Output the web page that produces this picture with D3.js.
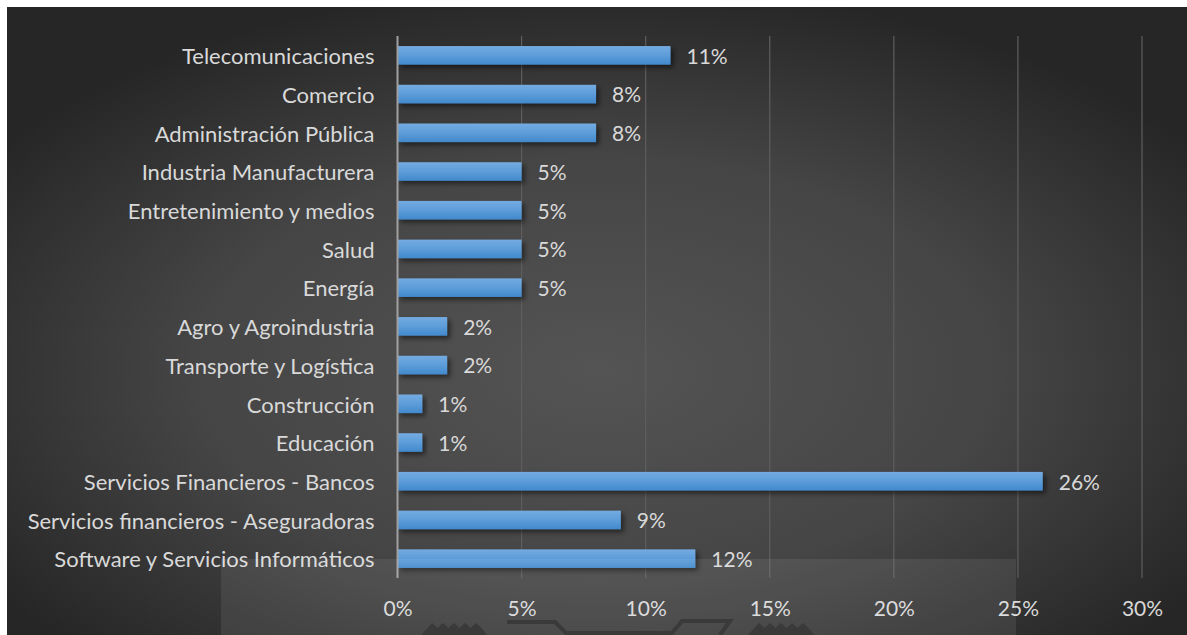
<!DOCTYPE html>
<html>
<head>
<meta charset="utf-8">
<script src="https://cdn.jsdelivr.net/npm/d3@7"></script>
<style>
  html, body { margin: 0; padding: 0; background: #fff; }
  svg { display: block; }
  text { font-family: 'Lato', 'Open Sans', sans-serif; fill: #d9d9d9; }
</style>
</head>
<body>
<div id="chart"></div>
<script>
// Sectors, top to bottom as they appear
const categories = [
  'Telecomunicaciones',
  'Comercio',
  'Administración Pública',
  'Industria Manufacturera',
  'Entretenimiento y medios',
  'Salud',
  'Energía',
  'Agro y Agroindustria',
  'Transporte y Logística',
  'Construcción',
  'Educación',
  'Servicios Financieros - Bancos',
  'Servicios financieros - Aseguradoras',
  'Software y Servicios Informáticos'
];

// Share of each sector
const shares = [0.11, 0.08, 0.08, 0.05, 0.05, 0.05, 0.05, 0.02, 0.02, 0.01, 0.01, 0.26, 0.09, 0.12];

const xTicks = [0, 0.05, 0.10, 0.15, 0.20, 0.25, 0.30];

const width = 1187;
const height = 635;
const margin = { top: 36, right: 45, bottom: 57, left: 397.5 };

const data = categories.map((c, i) => ({ name: c, value: shares[i] }));

const svg = d3.select('#chart')
  .append('svg')
  .attr('width', width)
  .attr('height', height);

const defs = svg.append('defs');

// dark radial background
const bg = defs.append('radialGradient')
  .attr('id', 'bgGrad')
  .attr('cx', '50%').attr('cy', '58%').attr('r', '62%');
bg.append('stop').attr('offset', '0%').attr('stop-color', '#545454');
bg.append('stop').attr('offset', '55%').attr('stop-color', '#454545');
bg.append('stop').attr('offset', '100%').attr('stop-color', '#262626');

// bar fill
const barGrad = defs.append('linearGradient')
  .attr('id', 'barGrad')
  .attr('x1', 0).attr('y1', 0).attr('x2', 0).attr('y2', 1);
barGrad.append('stop').attr('offset', '0%').attr('stop-color', '#74abe1');
barGrad.append('stop').attr('offset', '50%').attr('stop-color', '#5d9dd9');
barGrad.append('stop').attr('offset', '100%').attr('stop-color', '#4189cd');

const shadow = defs.append('filter')
  .attr('id', 'shadow')
  .attr('x', '-10%').attr('y', '-50%')
  .attr('width', '130%').attr('height', '220%');
shadow.append('feDropShadow')
  .attr('dx', 3).attr('dy', 3)
  .attr('stdDeviation', 2.5)
  .attr('flood-color', '#000')
  .attr('flood-opacity', 0.5);

svg.append('rect')
  .attr('x', 7).attr('y', 7)
  .attr('width', width - 7).attr('height', height - 7)
  .attr('fill', 'url(#bgGrad)');

// Scales
const x = d3.scaleLinear()
  .domain([0, 0.30])
  .range([margin.left, width - margin.right]);

const y = d3.scaleBand()
  .domain(categories)
  .range([margin.top, height - margin.bottom])
  .paddingInner(0.52)
  .paddingOuter(0.26);

// Gridlines
svg.append('g')
  .selectAll('line')
  .data(xTicks.slice(1))
  .enter()
  .append('line')
  .attr('x1', d => x(d)).attr('x2', d => x(d))
  .attr('y1', margin.top).attr('y2', height - margin.bottom)
  .attr('stroke', '#5e5e5e')
  .attr('stroke-width', 1.2);

// Bars
svg.append('g')
  .selectAll('rect')
  .data(data)
  .enter()
  .append('rect')
  .attr('x', x(0))
  .attr('y', d => y(d.name))
  .attr('width', d => x(d.value) - x(0))
  .attr('height', y.bandwidth())
  .attr('fill', 'url(#barGrad)')
  .attr('filter', 'url(#shadow)');

// Value labels
svg.append('g')
  .selectAll('text')
  .data(data)
  .enter()
  .append('text')
  .attr('x', d => x(d.value) + 16)
  .attr('y', d => y(d.name) + y.bandwidth() / 2)
  .attr('dy', '0.4em')
  .style('font-size', '21px')
  .text(d => d3.format('.0%')(d.value));

// Category axis
const yAxis = svg.append('g')
  .attr('transform', `translate(${x(0)},0)`)
  .call(d3.axisLeft(y).tickSize(0).tickPadding(23));
yAxis.select('.domain').remove();
yAxis.selectAll('text')
  .style('font-size', '22px')
  .attr('dy', '0.4em')
  .attr('fill', '#d9d9d9');

// Value axis
const xAxis = svg.append('g')
  .attr('transform', `translate(0,${height - margin.bottom})`)
  .call(d3.axisBottom(x).tickValues(xTicks).tickFormat(d3.format('.0%')).tickSize(0).tickPadding(23));
xAxis.select('.domain').remove();
xAxis.selectAll('text')
  .style('font-size', '21px')
  .attr('fill', '#d9d9d9');

// vertical axis line at 0
svg.append('line')
  .attr('x1', x(0)).attr('x2', x(0))
  .attr('y1', margin.top).attr('y2', height - margin.bottom)
  .attr('stroke', '#a0a0a0')
  .attr('stroke-width', 2);

// Watermark panel at the bottom
const mark = svg.append('g');
mark.append('rect')
  .attr('x', 221).attr('y', 559)
  .attr('width', 795).attr('height', 76)
  .attr('fill', '#ffffff')
  .attr('opacity', 0.08);

const crown = (x0, w) => {
  const top = 623, base = 635, n = 5, step = w / (n + 1);
  let p = `M${x0},${base} L${x0 + step * 0.5},${top + 6}`;
  for (let i = 0; i < n; i++) {
    const cx = x0 + step * (i + 1);
    p += ` L${cx},${top} L${cx + step * 0.5},${top + 5}`;
  }
  p += ` L${x0 + w},${base} Z`;
  return p;
};
mark.append('path').attr('d', crown(421, 66)).attr('fill', '#3a3a3a');
mark.append('path').attr('d', crown(748, 66)).attr('fill', '#3a3a3a');
mark.append('path')
  .attr('d', 'M507,622 L555,622 L566,633 L672,633 L682,621 L730,621 L720,635')
  .attr('fill', 'none')
  .attr('stroke', '#3a3a3a')
  .attr('stroke-width', 4);
</script>
</body>
</html>
